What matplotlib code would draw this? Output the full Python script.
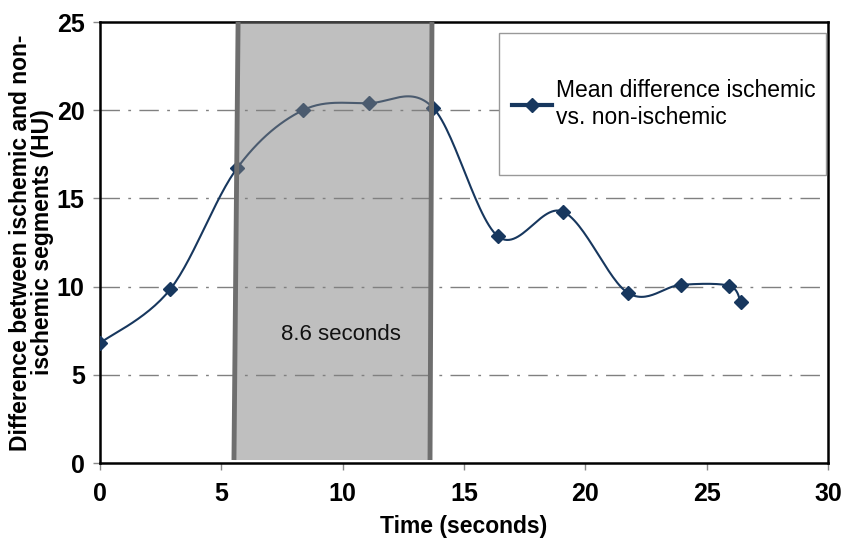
import matplotlib
matplotlib.use('Agg')
import matplotlib.pyplot as plt
from matplotlib.patches import Rectangle
import numpy as np

plt.rcParams['font.family'] = ['Liberation Sans', 'DejaVu Sans']

# datos
time_s = [0, 2.9, 5.64, 8.36, 11.08, 13.72, 16.4, 19.08, 21.75, 23.93, 25.92, 26.4]
diff_hu = [6.8, 9.86, 16.7, 20.0, 20.4, 20.15, 12.85, 14.25, 9.65, 10.1, 10.05, 9.15]

# franja sombreada (8.6 s)
band_left = (5.69, 5.52)   # x arriba, x abajo
band_right = (13.68, 13.60)
band_top, band_bottom = 25, 0.17
band_label = '8.6 seconds'


def smooth(xs, ys, n=30):
    # curva suavizada tipo Excel (Catmull-Rom con Bezier)
    p = np.column_stack([xs, ys]).astype(float)
    p = np.vstack([p[0], p, p[-1]])
    out = []
    t = np.linspace(0, 1, n)[:, None]
    for i in range(1, len(p) - 2):
        p0, p3 = p[i], p[i + 1]
        c1 = p0 + (p[i + 1] - p[i - 1]) / 6
        c2 = p3 - (p[i + 2] - p[i]) / 6
        seg = ((1 - t) ** 3) * p0 + 3 * ((1 - t) ** 2) * t * c1 + 3 * (1 - t) * t ** 2 * c2 + t ** 3 * p3
        out.append(seg)
    out = np.vstack(out)
    return out[:, 0], out[:, 1]


fig = plt.figure(figsize=(8.44, 5.38), dpi=100)
ax = fig.add_axes([0.1185, 0.1394, 0.8625, 0.8196])

line_col = '#17375e'
sx, sy = smooth(time_s, diff_hu)
ax.plot(sx, sy, color=line_col, lw=1.5, zorder=3)
ax.plot(time_s, diff_hu, ls='none', marker='D', ms=7.5, color=line_col, zorder=4)
# para la leyenda
ax.plot([], [], color=line_col, lw=3, marker='D', ms=7.5,
        label='Mean difference ischemic\nvs. non-ischemic')

# franja gris encima de la linea (semi transparente)
poly_x = [band_left[0], band_right[0], band_right[1], band_left[1]]
poly_y = [band_top, band_top, band_bottom, band_bottom]
ax.fill(poly_x, poly_y, color='#808080', alpha=0.5, lw=0, zorder=5)
ax.plot(band_left, [band_top, band_bottom], color='#6e6e6e', lw=3.5, zorder=6, solid_capstyle='butt')
ax.plot(band_right, [band_top, band_bottom], color='#6e6e6e', lw=3.5, zorder=6, solid_capstyle='butt')
ax.text(9.93, 7.3, band_label, ha='center', va='center', fontsize=16, color='#111111', zorder=7)

ax.set_xlim(0, 30)
ax.set_ylim(0, 25)
ax.set_xticks([0, 5, 10, 15, 20, 25, 30])
ax.set_yticks([0, 5, 10, 15, 20, 25])
ax.tick_params(axis='both', labelsize=18, length=5, color='#888888', width=1)
for lab in ax.get_xticklabels() + ax.get_yticklabels():
    lab.set_fontweight('bold')
ax.tick_params(axis='x', pad=9)
ax.tick_params(axis='y', pad=6)

for y in [5, 10, 15, 20]:
    ax.axhline(y, color='#808080', lw=1, dashes=(14, 6, 2, 6), zorder=1)

for s in ax.spines.values():
    s.set_linewidth(1.8)
    s.set_color('black')

ax.set_xlabel('Time (seconds)', fontsize=16.5, fontweight='bold', labelpad=6)
ax.set_ylabel('Difference between ischemic and non-\nischemic segments (HU)',
              fontsize=16.5, fontweight='bold', labelpad=2, linespacing=0.95)

# caja de la leyenda
ax.add_patch(Rectangle((0.548, 0.653), 0.449, 0.322, transform=ax.transAxes,
                       facecolor='white', edgecolor='#999999', lw=1, zorder=8))
leg = ax.legend(loc='center left', bbox_to_anchor=(0.566, 0.814), fontsize=16.5,
                frameon=False, handlelength=1.75, borderpad=0,
                handletextpad=0.15, borderaxespad=0)
leg.set_zorder(9)

plt.savefig('out.png', dpi=100)
